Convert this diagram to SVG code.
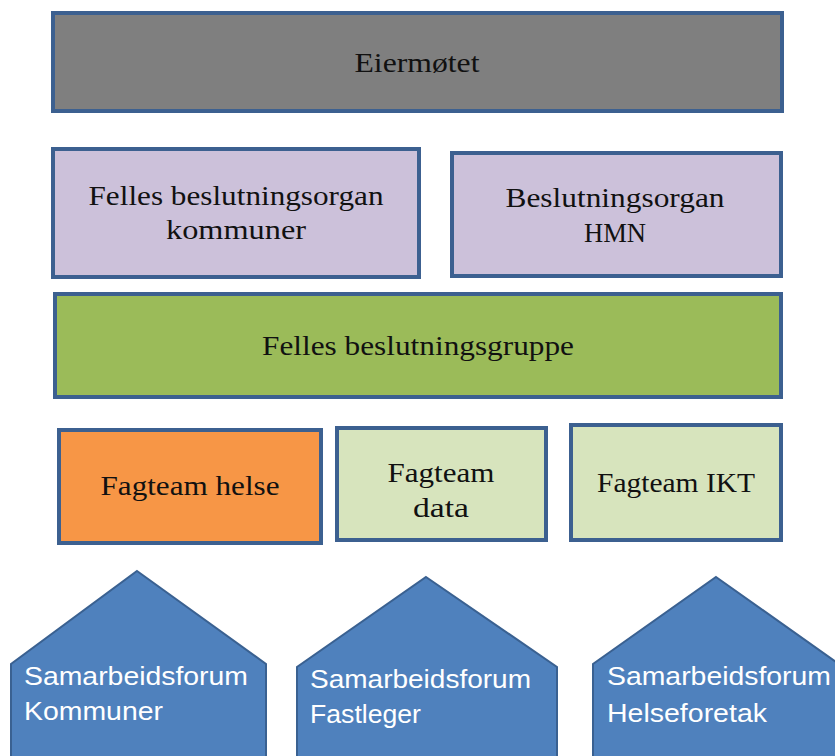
<svg xmlns="http://www.w3.org/2000/svg" width="835" height="756" viewBox="0 0 835 756">
<style>
.box{stroke:#3c6090;stroke-width:4}
.t{font-family:"Liberation Serif","DejaVu Serif",serif;font-size:28px;fill:#111;text-anchor:middle}
.p{fill:#4f81bd;stroke:#3a6191;stroke-width:2}
.w{font-family:"Liberation Sans","DejaVu Sans",sans-serif;font-size:26px;fill:#fff}
</style>
<rect width="835" height="756" fill="#fff"/>
<g id="eiermotet">
<rect class="box" x="53" y="13" width="729" height="98" fill="#7f7f7f"/>
<text class="t" x="417" y="72" textLength="125" lengthAdjust="spacingAndGlyphs">Eiermøtet</text>
</g>
<g id="felles-beslutningsorgan">
<rect class="box" x="53" y="149" width="366" height="128" fill="#ccc1da"/>
<text class="t" x="236" y="205" textLength="295" lengthAdjust="spacingAndGlyphs">Felles beslutningsorgan</text>
<text class="t" x="236" y="239" textLength="140" lengthAdjust="spacingAndGlyphs">kommuner</text>
</g>
<g id="beslutningsorgan-hmn">
<rect class="box" x="452" y="153" width="329" height="123" fill="#ccc1da"/>
<text class="t" x="615" y="207" textLength="219" lengthAdjust="spacingAndGlyphs">Beslutningsorgan</text>
<text class="t" x="615" y="242" textLength="62" lengthAdjust="spacingAndGlyphs">HMN</text>
</g>
<g id="felles-beslutningsgruppe">
<rect class="box" x="55" y="294" width="726" height="103" fill="#9bbb59"/>
<text class="t" x="418" y="355" textLength="312" lengthAdjust="spacingAndGlyphs">Felles beslutningsgruppe</text>
</g>
<g id="fagteam-helse">
<rect class="box" x="59" y="430" width="262" height="113" fill="#f79646"/>
<text class="t" x="190" y="495" textLength="179" lengthAdjust="spacingAndGlyphs">Fagteam helse</text>
</g>
<g id="fagteam-data">
<rect class="box" x="337" y="428" width="209" height="112" fill="#d7e4bd"/>
<text class="t" x="441" y="482" textLength="107" lengthAdjust="spacingAndGlyphs">Fagteam</text>
<text class="t" x="441" y="517" textLength="56" lengthAdjust="spacingAndGlyphs">data</text>
</g>
<g id="fagteam-ikt">
<rect class="box" x="571" y="425" width="210" height="115" fill="#d7e4bd"/>
<text class="t" x="676" y="492" textLength="158" lengthAdjust="spacingAndGlyphs">Fagteam IKT</text>
</g>
<g id="forum-kommuner">
<polygon class="p" points="137,571 266,664 266,760 11,760 11,664"/>
<text class="w" x="24" y="685" textLength="224" lengthAdjust="spacingAndGlyphs">Samarbeidsforum</text>
<text class="w" x="24" y="720" textLength="139" lengthAdjust="spacingAndGlyphs">Kommuner</text>
</g>
<g id="forum-fastleger">
<polygon class="p" points="426,577 557,667 557,760 297,760 297,667"/>
<text class="w" x="310" y="688" textLength="221" lengthAdjust="spacingAndGlyphs">Samarbeidsforum</text>
<text class="w" x="310" y="723" textLength="111" lengthAdjust="spacingAndGlyphs">Fastleger</text>
</g>
<g id="forum-helseforetak">
<polygon class="p" points="716,577 839,664 839,760 593,760 593,664" fill="#5589c6"/>
<text class="w" x="607" y="685" textLength="224" lengthAdjust="spacingAndGlyphs">Samarbeidsforum</text>
<text class="w" x="607" y="722" textLength="160" lengthAdjust="spacingAndGlyphs">Helseforetak</text>
</g>
<g id="connectors"/>
</svg>
